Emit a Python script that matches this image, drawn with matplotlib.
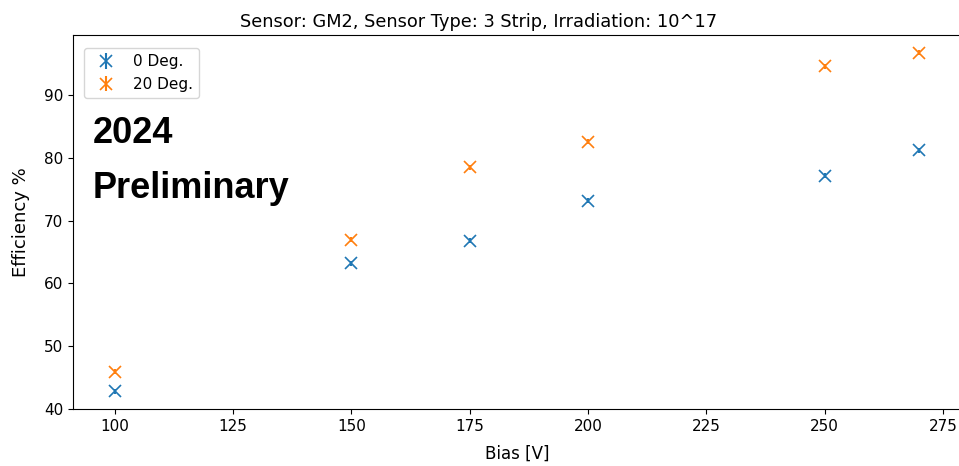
import matplotlib
matplotlib.use("Agg")
import matplotlib.pyplot as plt

bias = [100, 150, 175, 200, 250, 270]
eff_0deg = [42.8, 63.2, 66.8, 73.2, 77.2, 81.2]
eff_20deg = [45.9, 67.0, 78.5, 82.6, 94.6, 96.8]
err_0deg = [0.4, 0.4, 0.4, 0.4, 0.4, 0.4]
err_20deg = [0.4, 0.4, 0.4, 0.4, 0.4, 0.4]
labels = ["0 Deg.", "20 Deg."]
title = "Sensor: GM2, Sensor Type: 3 Strip, Irradiation: 10^17"

W, H = 959, 466
fig = plt.figure(figsize=(W / 100, H / 100), dpi=100)
ax_left, ax_right, ax_top, ax_bot = 73, 962, 35, 409
ax = fig.add_axes([ax_left / W, (H - ax_bot) / H, (ax_right - ax_left) / W, (ax_bot - ax_top) / H])

ax.errorbar(bias, eff_0deg, yerr=err_0deg, fmt='x', color='tab:blue', markersize=8,
            markeredgewidth=1.2, label=labels[0])
ax.errorbar(bias, eff_20deg, yerr=err_20deg, fmt='x', color='tab:orange', markersize=8,
            markeredgewidth=1.2, label=labels[1])

ax.set_xlim(91.2, 279.0)
ax.set_ylim(40, 99.6)
ax.set_xticks([100, 125, 150, 175, 200, 225, 250, 275])
ax.set_yticks([40, 50, 60, 70, 80, 90])
ax.tick_params(labelsize=11)
ax.set_xlabel("Bias [V]", fontsize=12, labelpad=8)
ax.set_ylabel("Efficiency %", fontsize=13, labelpad=10)
ax.set_title(title, fontsize=12.8, x=(479 - ax_left) / (ax_right - ax_left))

ax.legend(loc='upper left', bbox_to_anchor=(0.004, 0.985), fontsize=11)

ax.text(93 / W, 1 - 143 / H, "2024", transform=fig.transFigure, fontsize=26,
        fontweight='bold', family='Liberation Sans', va='baseline', ha='left')
ax.text(93 / W, 1 - 198 / H, "Preliminary", transform=fig.transFigure, fontsize=26,
        fontweight='bold', family='Liberation Sans', va='baseline', ha='left')

fig.savefig("out.png", dpi=100)
